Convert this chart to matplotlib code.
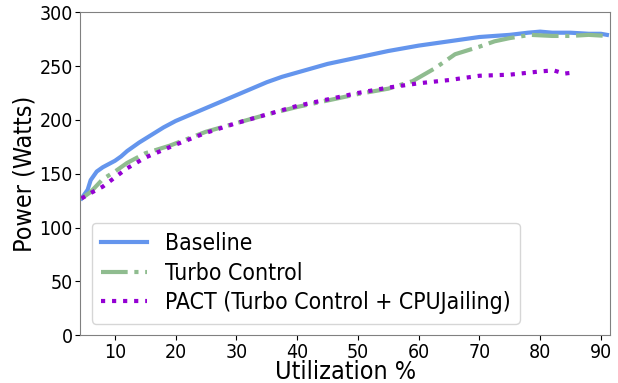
import numpy as np
from matplotlib import pyplot as plt

plt.rcParams['font.family'] = 'DejaVu Sans'
plt.rcParams['font.stretch'] = 'condensed'

# Данные
util_base = [4.5, 5.5, 6, 7, 8, 9, 10, 11, 12, 14, 16, 18, 20, 22.5, 25, 27.5, 30, 32.5, 35, 37.5, 40, 45, 50, 55, 60, 65, 70, 75, 78, 80, 82, 85, 88, 90, 91]
power_base = [127, 135, 144, 152, 156, 159, 162, 166, 171, 179, 186, 193, 199, 205, 211, 217, 223, 229, 235, 240, 244, 252, 258, 264, 269, 273, 277, 279, 281, 282, 281, 281, 280, 280, 279]

util_turbo = [4.5, 6, 8, 10, 12, 15, 19, 25, 30, 35, 40, 45, 50, 55, 59, 62.7, 66, 70, 72.5, 75, 78.4, 82, 85, 88, 91]
power_turbo = [127, 133, 145, 152, 160, 169, 176, 189, 197, 205, 212, 218, 224, 229, 236, 248, 261, 268, 273, 276, 279, 278, 278, 279, 278]

util_pact = [4.5, 6, 8, 10.8, 12, 15, 20, 25, 30, 35, 40, 45, 50, 55, 60, 65, 70, 75, 80, 82.2, 84, 85.5]
power_pact = [127, 132, 138, 150, 155, 165, 177, 188, 197, 205, 213, 219, 225, 230, 234, 237, 241, 242, 245, 246, 243, 244]

fig, ax = plt.subplots(figsize=(6.18, 3.83), dpi=100)
ax.plot(util_base, power_base, color='cornflowerblue', lw=3, label='Baseline')
ax.plot(util_turbo, power_turbo, color='darkseagreen', lw=3, ls='-.', label='Turbo Control')
ax.plot(util_pact, power_pact, color='darkviolet', lw=3, ls=':', label='PACT (Turbo Control + CPUJailing)')

ax.set_xlim(4.3, 91.5)
ax.set_ylim(0, 300)
ax.set_xticks([10, 20, 30, 40, 50, 60, 70, 80, 90])
ax.set_yticks([0, 50, 100, 150, 200, 250, 300])
ax.tick_params(labelsize=14, pad=2)
ax.set_xlabel('Utilization %', fontsize=18, labelpad=-1)
ax.set_ylabel('Power (Watts)', fontsize=18, labelpad=2)
for s in ax.spines.values():
    s.set_color('grey')
ax.legend(loc='lower left', fontsize=16.5, labelspacing=0.3)

fig.subplots_adjust(left=0.13, right=0.987, top=0.968, bottom=0.125)
fig.savefig('out.png', dpi=100)
